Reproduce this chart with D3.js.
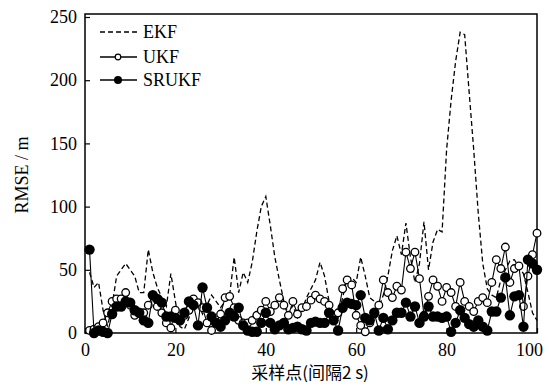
<!DOCTYPE html>
<html><head><meta charset="utf-8">
<script src="https://cdn.jsdelivr.net/npm/d3@7"></script>
<style>body{margin:0;background:#fff}svg{display:block}</style>
</head><body><svg id="c" width="549" height="387"></svg>
<script>
const samples = d3.range(1, 101);
const ekf = [48,36,40,18,5,22,45,50,55,50,45,32,32,66,48,36,28,21,47,25,5,3,12,20,25,15,22,30,25,20,25,30,60,32,48,40,56,80,100,108,85,60,42,25,15,22,12,18,28,35,42,56,45,25,16,12,28,43,44,40,60,45,28,25,20,30,45,65,77,62,87,60,40,55,88,50,72,82,80,145,184,215,238,236,190,145,95,55,35,30,28,42,50,57,58,52,47,32,16,10];
const ukf = [2,3,5,8,16,25,27,27,32,22,14,16,16,22,30,21,16,8,4,18,10,14,18,27,24,20,8,2,8,15,28,29,20,10,8,8,10,14,18,25,17,22,28,22,14,25,15,20,21,26,30,27,25,22,14,16,35,42,38,14,6,1,8,15,22,42,32,28,37,34,64,51,64,43,14,29,42,37,25,36,32,21,40,25,21,17,25,28,24,40,58,51,68,40,51,53,21,45,62,79];
const srukf = [66,0,2,1,0,15,21,21,25,24,18,16,10,8,30,27,24,13,13,12,10,16,25,22,6,36,20,13,8,5,10,16,13,20,6,2,1,1,8,16,8,3,6,8,3,4,5,3,2,8,9,8,8,16,10,2,20,24,23,22,30,12,10,16,2,12,3,10,16,16,24,13,21,8,13,21,13,13,12,13,1,8,18,12,7,5,10,5,2,17,17,28,44,14,29,30,5,58,55,50];
const xTicks = [0,20,40,60,80,100];
const yTicks = [0,50,100,150,200,250];
const seriesNames = ["EKF","UKF","SRUKF"];

const svg = d3.select("#c");
const L = 85, R = 537, T = 17, B = 333;
const x = d3.scaleLinear().domain([0,100]).range([L,R]);
const y = d3.scaleLinear().domain([0,250]).range([B,T]);
const font = "Liberation Serif, Times New Roman, serif";

// frame
svg.append("rect").attr("x",L).attr("y",14).attr("width",R-L).attr("height",B-14)
  .attr("fill","none").attr("stroke","#000").attr("stroke-width",1.5);

// axes with inward ticks
const xa = svg.append("g").attr("transform",`translate(0,${B})`)
  .call(d3.axisBottom(x).tickValues(xTicks).tickSize(-5).tickPadding(10).tickFormat(d3.format("d")));
const ya = svg.append("g").attr("transform",`translate(${L},0)`)
  .call(d3.axisLeft(y).tickValues(yTicks).tickSize(-5).tickPadding(8).tickFormat(d3.format("d")));
[xa,ya].forEach(g=>{
  g.attr("font-family",font).attr("font-size",18);
  g.select(".domain").remove();
  g.selectAll(".tick line").attr("stroke","#000").attr("stroke-width",1.2);
  g.selectAll("text").style("font-family",font).style("font-size","18px").attr("fill","#000");
});
xa.selectAll(".tick text").filter(d=>d===100).attr("dx",-8);

const line = d3.line().x((d,i)=>x(samples[i])).y(d=>y(d));

svg.append("path").datum(ekf).attr("d",line).attr("fill","none")
  .attr("stroke","#000").attr("stroke-width",1.3).attr("stroke-dasharray","5,3");

svg.append("path").datum(ukf).attr("d",line).attr("fill","none")
  .attr("stroke","#000").attr("stroke-width",1.1);
svg.append("g").selectAll("circle").data(ukf).join("circle")
  .attr("cx",(d,i)=>x(samples[i])).attr("cy",d=>y(d)).attr("r",3.8)
  .attr("fill","#fff").attr("stroke","#000").attr("stroke-width",1.3);

svg.append("path").datum(srukf).attr("d",line).attr("fill","none")
  .attr("stroke","#000").attr("stroke-width",1.1);
svg.append("g").selectAll("circle").data(srukf).join("circle")
  .attr("cx",(d,i)=>x(samples[i])).attr("cy",d=>y(d)).attr("r",5.2)
  .attr("fill","#000");

// legend
const lg = svg.append("g");
const ly = [32,57,80];
seriesNames.forEach((n,k)=>{
  lg.append("line").attr("x1",100).attr("x2",137).attr("y1",ly[k]).attr("y2",ly[k])
    .attr("stroke","#000").attr("stroke-width",1.3).attr("stroke-dasharray",k===0?"5,3":null);
  if(k===1) lg.append("circle").attr("cx",118).attr("cy",ly[k]).attr("r",2.8).attr("fill","#fff").attr("stroke","#000").attr("stroke-width",1.2);
  if(k===2) lg.append("circle").attr("cx",118).attr("cy",ly[k]).attr("r",4).attr("fill","#000");
  lg.append("text").attr("x",143).attr("y",ly[k]+6).text(n)
    .style("font-family",font).style("font-size","18px").attr("fill","#000");
});

// axis titles
svg.append("text").attr("x",310).attr("y",379).attr("text-anchor","middle")
  .style("font-family","Noto Sans CJK SC, sans-serif").style("font-size","17px").attr("fill","#000")
  .text("采样点(间隔2 s)");
svg.append("text").attr("transform","translate(28,175) rotate(-90)").attr("text-anchor","middle")
  .style("font-family",font).style("font-size","18px").attr("fill","#000").text("RMSE / m");
</script></body></html>
